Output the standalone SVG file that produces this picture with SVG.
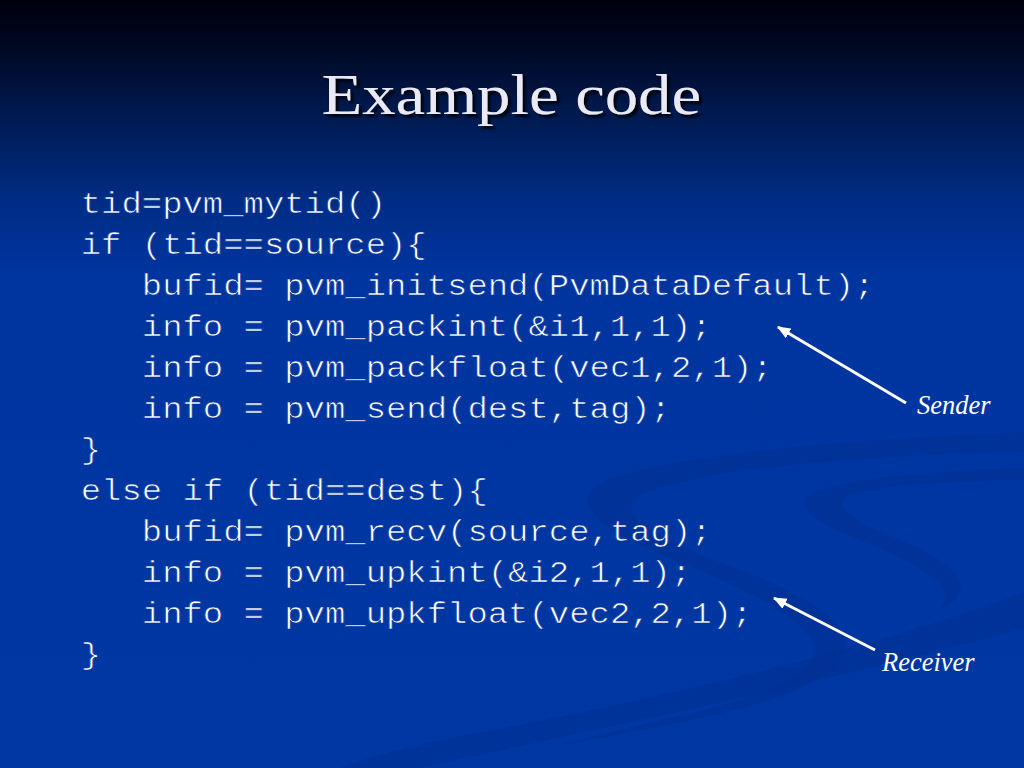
<svg xmlns="http://www.w3.org/2000/svg" width="1024" height="768" viewBox="0 0 1024 768">
  <defs>
    <linearGradient id="bg" x1="0" y1="0" x2="0" y2="1">
      <stop offset="0" stop-color="#00000c"/>
      <stop offset="0.06" stop-color="#000822"/>
      <stop offset="0.15" stop-color="#001a50"/>
      <stop offset="0.26" stop-color="#002c84"/>
      <stop offset="0.36" stop-color="#0035a0"/>
      <stop offset="1" stop-color="#0037a2"/>
    </linearGradient>
    <marker id="arrow" viewBox="0 0 12 10" refX="11" refY="5" markerWidth="4.5" markerHeight="4" orient="auto" markerUnits="strokeWidth">
      <path d="M0,0 L12,5 L0,10 Z" fill="#ffffff"/>
    </marker>
    <filter id="shadow" x="-10%" y="-20%" width="120%" height="150%">
      <feGaussianBlur in="SourceAlpha" stdDeviation="1.2"/>
      <feOffset dx="3" dy="3" result="b"/>
      <feFlood flood-color="#000000" flood-opacity="0.85"/>
      <feComposite in2="b" operator="in"/>
      <feMerge><feMergeNode/><feMergeNode in="SourceGraphic"/></feMerge>
    </filter>
  </defs>
  <style>
    .code { font-family: "Courier New", "Nimbus Mono PS", "FreeMono", Courier, "Liberation Mono", monospace; font-size: 29px; fill: #ffffff; stroke: #0034a0; stroke-width: 0.65px; white-space: pre; }
    .title { font-family: "Liberation Serif", "Times New Roman", serif; font-size: 57px; fill: #eaeaf7; }
    .label { font-family: "Liberation Serif", "Times New Roman", serif; font-style: italic; font-size: 26.5px; fill: #ffffff; }
    .conn { stroke: #ffffff; stroke-width: 3; fill: none; marker-end: url(#arrow); }
    .swoosh { fill: #002e8e; opacity: 0.45; }
  </style>

  <rect x="0" y="0" width="1024" height="768" fill="url(#bg)"/>

  <g id="swooshes">
    <path class="swoosh" d="M1024,432 C880,438 700,450 612,478 C570,492 585,520 640,545 C720,580 790,605 812,640 C830,672 760,700 640,725 L560,745 C700,720 810,700 840,660 C860,630 820,600 740,570 C660,540 610,515 640,495 C690,470 860,455 1024,452 Z"/>
    <path class="swoosh" d="M1024,468 C940,470 850,478 815,492 C790,505 810,520 860,540 C920,565 960,585 940,610 C980,590 960,565 900,540 C850,520 830,505 850,495 C880,485 960,480 1024,480 Z"/>
    <path class="swoosh" d="M1024,592 C900,640 700,690 520,725 C440,740 380,752 340,768 L420,768 C520,745 720,705 880,665 C950,648 1000,635 1024,628 Z"/>
  </g>

  <g id="title" filter="url(#shadow)">
    <text class="title" x="437" y="114" text-anchor="middle" transform="scale(1.17 1)">Example code</text>
  </g>

  <g id="code" transform="scale(1.17 1)">
    <text class="code" x="69" y="213">tid=pvm_mytid()</text>
    <text class="code" x="69" y="254">if (tid==source){</text>
    <text class="code" x="69" y="295">   bufid= pvm_initsend(PvmDataDefault);</text>
    <text class="code" x="69" y="336">   info = pvm_packint(&amp;i1,1,1);</text>
    <text class="code" x="69" y="377">   info = pvm_packfloat(vec1,2,1);</text>
    <text class="code" x="69" y="418">   info = pvm_send(dest,tag);</text>
    <text class="code" x="69" y="459">}</text>
    <text class="code" x="69" y="500">else if (tid==dest){</text>
    <text class="code" x="69" y="541">   bufid= pvm_recv(source,tag);</text>
    <text class="code" x="69" y="582">   info = pvm_upkint(&amp;i2,1,1);</text>
    <text class="code" x="69" y="623">   info = pvm_upkfloat(vec2,2,1);</text>
    <text class="code" x="69" y="664">}</text>
  </g>

  <g id="connectors">
    <line class="conn" x1="906" y1="403" x2="778" y2="327"/>
    <line class="conn" x1="875" y1="650" x2="774" y2="598"/>
  </g>

  <g id="sender">
    <text class="label" x="917" y="414">Sender</text>
  </g>
  <g id="receiver">
    <text class="label" x="882" y="671">Receiver</text>
  </g>
</svg>
